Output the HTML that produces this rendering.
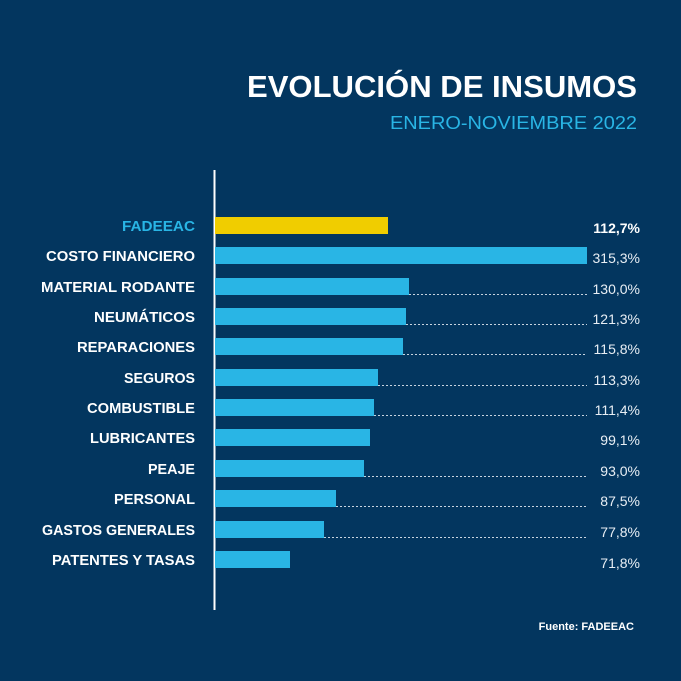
<!DOCTYPE html>
<html><head><meta charset="utf-8"><style>
body{margin:0;background:#03365f;}
svg{display:block}
text{font-family:"Liberation Sans",sans-serif}
</style></head><body>
<svg width="681" height="681" viewBox="0 0 681 681" xmlns="http://www.w3.org/2000/svg">
<rect width="681" height="681" fill="#03365f"/>
<text x="637" y="97" text-anchor="end" fill="#fff" font-size="31" font-weight="bold" textLength="390" lengthAdjust="spacingAndGlyphs">EVOLUCIÓN DE INSUMOS</text>
<text x="637" y="129" text-anchor="end" fill="#29b5e5" font-size="18" textLength="247" lengthAdjust="spacingAndGlyphs">ENERO-NOVIEMBRE 2022</text>
<line x1="214.5" y1="170" x2="214.5" y2="610" stroke="#fff" stroke-width="2"/>
<g stroke="#c8d4e0" stroke-width="1" stroke-dasharray="2,2">
<line x1="409" y1="294.5" x2="587" y2="294.5"/>
<line x1="406" y1="324.5" x2="587" y2="324.5"/>
<line x1="403" y1="354.5" x2="587" y2="354.5"/>
<line x1="378" y1="385.5" x2="587" y2="385.5"/>
<line x1="374" y1="415.5" x2="587" y2="415.5"/>
<line x1="364" y1="476.5" x2="587" y2="476.5"/>
<line x1="336" y1="506.5" x2="587" y2="506.5"/>
<line x1="324" y1="537.5" x2="587" y2="537.5"/>
</g>
<rect x="215" y="217" width="173" height="17" fill="#f0cd00"/>
<g fill="#29b5e5">
<rect x="215" y="247" width="372" height="17"/>
<rect x="215" y="278" width="194" height="17"/>
<rect x="215" y="308" width="191" height="17"/>
<rect x="215" y="338" width="188" height="17"/>
<rect x="215" y="369" width="163" height="17"/>
<rect x="215" y="399" width="159" height="17"/>
<rect x="215" y="429" width="155" height="17"/>
<rect x="215" y="460" width="149" height="17"/>
<rect x="215" y="490" width="121" height="17"/>
<rect x="215" y="521" width="109" height="17"/>
<rect x="215" y="551" width="75" height="17"/>
</g>
<g font-size="14.5" font-weight="bold" text-anchor="end" fill="#fff" lengthAdjust="spacingAndGlyphs">
<text x="195" y="231" fill="#29b5e5" textLength="73" lengthAdjust="spacingAndGlyphs">FADEEAC</text>
<text x="195" y="261" textLength="149" lengthAdjust="spacingAndGlyphs">COSTO FINANCIERO</text>
<text x="195" y="292" textLength="154" lengthAdjust="spacingAndGlyphs">MATERIAL RODANTE</text>
<text x="195" y="322" textLength="101" lengthAdjust="spacingAndGlyphs">NEUMÁTICOS</text>
<text x="195" y="352" textLength="118" lengthAdjust="spacingAndGlyphs">REPARACIONES</text>
<text x="195" y="383" textLength="71" lengthAdjust="spacingAndGlyphs">SEGUROS</text>
<text x="195" y="413" textLength="108" lengthAdjust="spacingAndGlyphs">COMBUSTIBLE</text>
<text x="195" y="443" textLength="105" lengthAdjust="spacingAndGlyphs">LUBRICANTES</text>
<text x="195" y="474" textLength="47" lengthAdjust="spacingAndGlyphs">PEAJE</text>
<text x="195" y="504" textLength="81" lengthAdjust="spacingAndGlyphs">PERSONAL</text>
<text x="195" y="535" textLength="153" lengthAdjust="spacingAndGlyphs">GASTOS GENERALES</text>
<text x="195" y="565" textLength="143" lengthAdjust="spacingAndGlyphs">PATENTES Y TASAS</text>
</g>
<g font-size="14" text-anchor="end" fill="#e8eef4">
<text x="640" y="233" font-weight="bold" fill="#fff">112,7%</text>
<text x="640" y="263">315,3%</text>
<text x="640" y="294">130,0%</text>
<text x="640" y="324">121,3%</text>
<text x="640" y="354">115,8%</text>
<text x="640" y="385">113,3%</text>
<text x="640" y="415">111,4%</text>
<text x="640" y="445">99,1%</text>
<text x="640" y="476">93,0%</text>
<text x="640" y="506">87,5%</text>
<text x="640" y="537">77,8%</text>
<text x="640" y="568">71,8%</text>
</g>
<text x="634" y="630" text-anchor="end" font-size="11" font-weight="bold" fill="#fff">Fuente: FADEEAC</text>
</svg>
</body></html>
